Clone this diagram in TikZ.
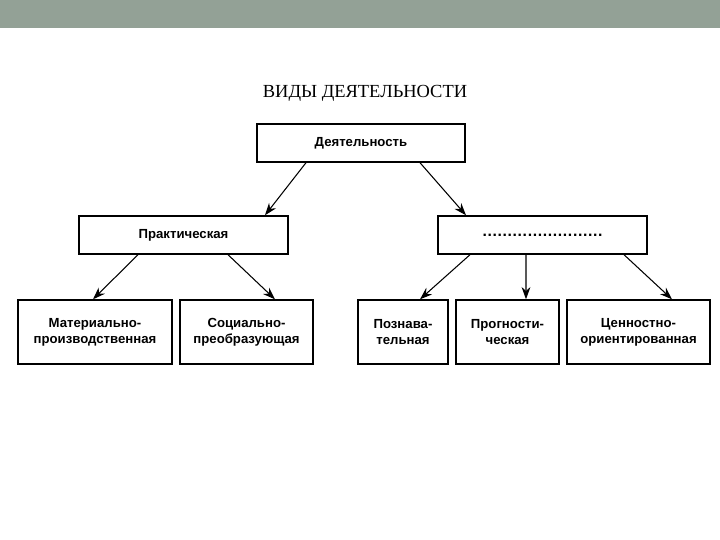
\documentclass[tikz,border=0pt]{standalone}
\usepackage{fontspec}
\setmainfont{Liberation Serif}
\newfontfamily\boxfont{Liberation Sans}
\usetikzlibrary{arrows.meta}
\definecolor{barcol}{RGB}{147,161,150}
\begin{document}
\begin{tikzpicture}[x=0.02cm,y=-0.02cm,
    box/.style={draw,line width=0.8pt,fill=white,align=center,inner sep=0pt,
      font=\boxfont\bfseries\fontsize{7.5}{9}\selectfont},
    arr/.style={line width=0.6pt,-{Stealth[length=7pt,width=5pt]}}]
    % page and top bar
    \useasboundingbox (0,0) rectangle (720,540);
    \fill[barcol] (0,0) rectangle (720,28);
    \node[font=\fontsize{10.5}{12}\selectfont] (title) at (365,93) {ВИДЫ ДЕЯТЕЛЬНОСТИ};

    % upper levels
    \node[box,minimum width=4.16cm,minimum height=0.76cm] (act) at (361,143) {Деятельность};
    \node[box,minimum width=4.18cm,minimum height=0.76cm] (prak) at (183.5,235) {Практическая};
    \node[box,minimum width=4.18cm,minimum height=0.76cm] (other) at (542.5,235)
      {\fontsize{9}{10}\selectfont\addfontfeatures{LetterSpace=4}........................};

    % lower level
    \node[box,minimum width=3.08cm,minimum height=1.28cm] (mat) at (95,332) {Материально-\\производственная};
    \node[box,minimum width=2.66cm,minimum height=1.28cm] (soc) at (246.5,332) {Социально-\\преобразующая};
    \node[box,minimum width=1.80cm,minimum height=1.28cm] (pozn) at (403,332) {Познава-\\тельная};
    \node[box,minimum width=2.06cm,minimum height=1.28cm] (progn) at (507.5,332) {Прогности-\\ческая};
    \node[box,minimum width=2.86cm,minimum height=1.28cm] (cenn) at (638.5,332) {Ценностно-\\ориентированная};

    % arrows
    \draw[arr] ([xshift=-1.1cm]act.south) -- ([xshift=1.63cm]prak.north);
    \draw[arr] ([xshift=1.18cm]act.south) -- ([xshift=-1.53cm]other.north);
    \draw[arr] ([xshift=-0.91cm]prak.south) -- ([xshift=-0.04cm]mat.north);
    \draw[arr] ([xshift=0.89cm]prak.south) -- ([xshift=0.57cm]soc.north);
    \draw[arr] ([xshift=-1.45cm]other.south) -- ([xshift=0.34cm]pozn.north);
    \draw[arr] ([xshift=-0.33cm]other.south) -- ([xshift=0.37cm]progn.north);
    \draw[arr] ([xshift=1.63cm]other.south) -- ([xshift=0.67cm]cenn.north);
\end{tikzpicture}
\end{document}
